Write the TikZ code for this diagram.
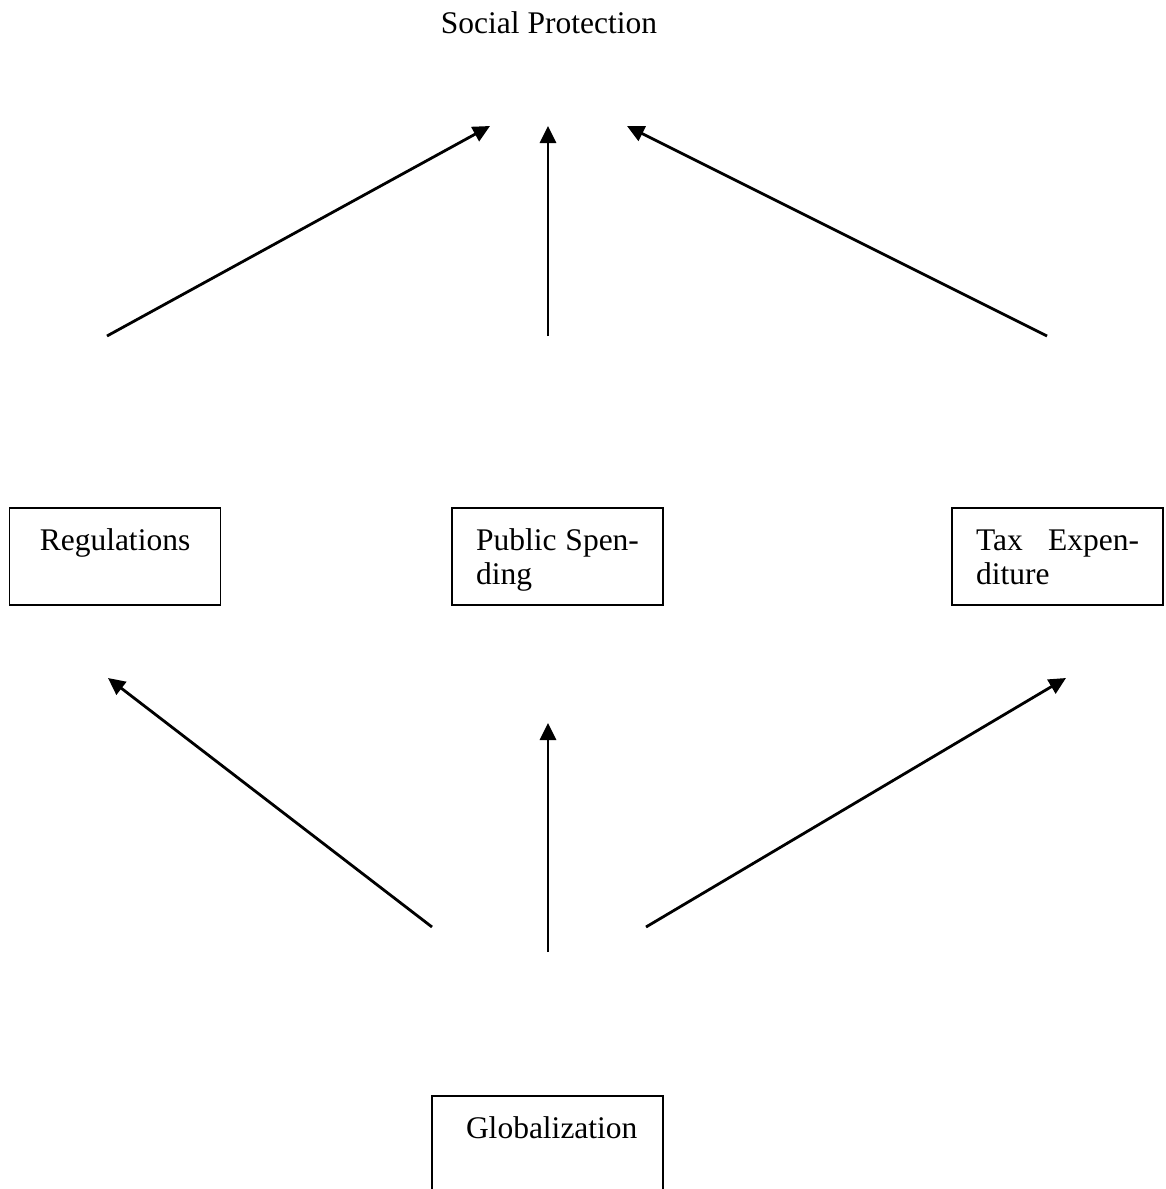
\documentclass[tikz,border=0pt]{standalone}
\usepackage{fontspec}
\setmainfont{Liberation Serif}
\usetikzlibrary{arrows.meta,positioning}
\newcommand{\upstrut}{\rule{0pt}{32pt}}
\newcommand{\downstrut}{\rule[-11pt]{0pt}{11pt}}

\begin{document}
\begin{tikzpicture}[x=1pt,y=-1pt,
	box/.style={draw,line width=1.3pt,minimum width=211pt,minimum height=97pt,
		inner xsep=0pt,inner ysep=0pt,text width=163pt,
		font=\fontsize{31.5}{34}\selectfont},
	arr/.style={line width=2.8pt,-{Triangle[length=17pt,width=16pt]}}]
	\useasboundingbox (0,0) rectangle (1165,1189);
	\clip (0,0) rectangle (1165,1189);

	\node[anchor=base,font=\fontsize{31.5}{34}\selectfont] (prot) at (549,33) {Social Protection};
	\node[box,align=center] (reg) at (115,556.5) {\upstrut Regulations\\\downstrut};
	\node[box,align=justify] (pub) at (557.5,556.5) {\upstrut Public Spen-\linebreak ding\downstrut};
	\node[box,align=justify] (tax) at (1057.5,556.5) {\upstrut Tax Expen-\linebreak diture\downstrut};
	\node[box,align=center,minimum width=231pt] (glob) at (547.5,1144.5) {\upstrut Globalization\\\downstrut};

	% upper arrows
	\coordinate (u1) at (107,336);
	\coordinate (u2) at (548,336);
	\coordinate (u3) at (1047,336);
	\coordinate (t1) at (490,126);
	\coordinate (t2) at (548,126);
	\coordinate (t3) at (627,126);
	% lower arrows
	\coordinate (l1) at (432,927);
	\coordinate (l2) at (548,952);
	\coordinate (l3) at (646,927);
	\coordinate (h1) at (108,678);
	\coordinate (h2) at (548,723);
	\coordinate (h3) at (1066,678);

	\path [arr]
	(u1) edge (t1)
	(u2) edge (t2)
	(u3) edge (t3)
	(l1) edge (h1)
	(l2) edge (h2)
	(l3) edge (h3);
\end{tikzpicture}
\end{document}
